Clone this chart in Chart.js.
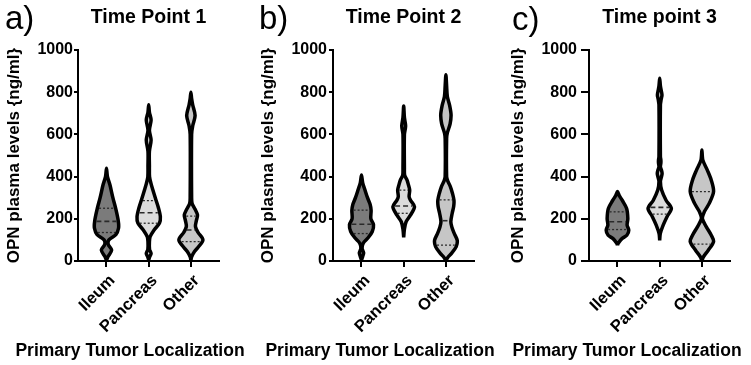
<!DOCTYPE html>
<html>
<head>
<meta charset="utf-8">
<script src="https://cdn.jsdelivr.net/npm/chart.js@4.4.1/dist/chart.umd.min.js"></script>
<style>
  body { margin: 0; background: #fff; }
  #wrap { position: relative; width: 751px; height: 365px; overflow: hidden;
          font-family: "Liberation Sans", Arial, sans-serif; color: #000; }
  canvas { position: absolute; top: 0; }
  .tag { position: absolute; font-size: 33px; line-height: 33px; }
  .xt { position: absolute; width: 300px; top: 340px; text-align: center;
        font-weight: bold; font-size: 17.5px; line-height: 20px; }
</style>
</head>
<body>
<div id="wrap">
  <canvas id="tp1" width="235" height="365" style="left:4px"></canvas>
  <canvas id="tp2" width="236" height="365" style="left:258px"></canvas>
  <canvas id="tp3" width="242" height="365" style="left:508px"></canvas>
  <div class="tag" style="left:5px;top:1px">a)</div>
  <div class="tag" style="left:259px;top:1px">b)</div>
  <div class="tag" style="left:512px;top:2px">c)</div>
  <div class="xt" style="left:-20px">Primary Tumor Localization</div>
  <div class="xt" style="left:230px">Primary Tumor Localization</div>
  <div class="xt" style="left:477px">Primary Tumor Localization</div>
</div>
<script>
// Violin plots of OPN plasma levels per tumour site, three time points

const CATEGORIES = ['Ileum', 'Pancreas', 'Other'];
const PANEL_TITLES = ['Time Point 1', 'Time Point 2', 'Time point 3'];
const Y_TITLE = 'OPN plasma levels {ng/ml}';
const Y_MIN = 0, Y_MAX = 1000, Y_STEP = 200;

// violin outlines: [OPN value, relative density 0..1]
const tp1Ileum = [[3,0],[20,0.12],[52,0.43],[78,0.15],[100,0.2],[125,0.78],[155,1.0],[190,0.98],
  [250,0.76],[300,0.53],[360,0.29],[400,0.08],[440,0]];
const tp1Pancreas = [[5,0],[20,0.08],[36,0.2],[55,0.07],[90,0.06],[115,0.12],[147,0.45],[180,0.9],
  [210,0.97],[250,0.82],[297,0.56],[340,0.33],[368,0.19],[400,0.07],[450,0.06],[520,0.06],
  [573,0.2],[620,0.06],[668,0.2],[705,0.06],[741,0]];
const tp1Other = [[3,0],[20,0.06],[45,0.3],[65,0.6],[100,1.0],[135,0.6],[163,0.38],[190,0.45],
  [218,0.55],[245,0.35],[273,0.1],[300,0.06],[600,0.06],[640,0.15],[689,0.35],[740,0.15],
  [770,0.06],[800,0]];

const tp2Ileum = [[5,0],[22,0.1],[38,0.18],[60,0.05],[85,0.15],[110,0.55],[140,0.9],[172,1.0],
  [200,0.78],[240,0.8],[268,0.72],[300,0.5],[340,0.27],[370,0.1],[407,0]];
const tp2Pancreas = [[112,0],[150,0.06],[186,0.2],[217,0.56],[257,0.9],[290,0.55],[305,0.45],
  [336,0.5],[360,0.4],[383,0.28],[407,0.08],[440,0.06],[600,0.06],[640,0.16],[680,0.06],[735,0]];
const tp2Other = [[3,0],[20,0.2],[35,0.45],[68,0.86],[98,0.94],[130,0.7],[160,0.5],[186,0.41],
  [225,0.52],[260,0.65],[288,0.67],[320,0.55],[353,0.37],[380,0.15],[400,0.06],[580,0.06],
  [607,0.12],[650,0.35],[693,0.43],[740,0.3],[780,0.12],[830,0.06],[883,0]];

const tp3Ileum = [[75,0],[83,0.05],[106,0.37],[122,0.78],[146,0.94],[170,0.8],[201,0.86],
  [249,0.76],[288,0.39],[310,0.15],[329,0]];
const tp3Pancreas = [[98,0],[130,0.05],[170,0.29],[210,0.61],[249,0.97],[288,0.53],[336,0.16],
  [377,0.06],[400,0.15],[415,0.2],[430,0.15],[446,0.06],[465,0.1],[478,0.1],[495,0.06],
  [740,0.06],[765,0.12],[787,0.19],[810,0.12],[830,0.06],[866,0]];
const tp3Other = [[0,0],[19,0.12],[51,0.53],[92,0.97],[122,0.78],[162,0.37],[201,0.04],[233,0.2],
  [273,0.61],[329,0.97],[383,0.78],[431,0.45],[478,0.08],[526,0]];

// medians and quartiles (Ileum, Pancreas, Other)
const tp1Median = [188, 229, 147], tp1Q1 = [135, 179, 92], tp1Q3 = [250, 286, 213];
const tp2Median = [174, 261, 191], tp2Q1 = [130, 226, 75], tp2Q3 = [241, 336, 290];
const tp3Median = [186, 254, 205], tp3Q1 = [149, 222, 80], tp3Q3 = [233, null, 329];

const FILLS = ['#7b7b7b', '#dcdcdc', '#c6c6c6'];
const HALF = 0.285;   // max half width of a violin, in category units
const FONT = '"Liberation Sans", Arial, sans-serif';

// layout of each panel: y-axis box width, tick length, tick padding
const panels = [
  { id: 'tp1', violins: [tp1Ileum, tp1Pancreas, tp1Other], med: tp1Median, q1: tp1Q1, q3: tp1Q3, yw: 74, tl: 4, tp: 1 },
  { id: 'tp2', violins: [tp2Ileum, tp2Pancreas, tp2Other], med: tp2Median, q1: tp2Q1, q3: tp2Q3, yw: 75, tl: 4, tp: 2 },
  { id: 'tp3', violins: [tp3Ileum, tp3Pancreas, tp3Other], med: tp3Median, q1: tp3Q1, q3: tp3Q3, yw: 81, tl: 8, tp: 4 }
];

function densityAt(profile, v) {
  for (let i = 1; i < profile.length; i++) {
    const [v0, d0] = profile[i - 1], [v1, d1] = profile[i];
    if (v >= v0 && v <= v1) return d0 + (d1 - d0) * (v - v0) / (v1 - v0);
  }
  return 0;
}

function violin(profile, cat, color) {
  const right = profile.map(([v, d]) => ({ x: cat + d * HALF, y: v }));
  const left = profile.slice(0, -1).reverse().map(([v, d]) => ({ x: cat - d * HALF, y: v }));
  return {
    data: right.concat(left),
    showLine: true,
    fill: 'shape',
    backgroundColor: color,
    borderColor: '#000',
    borderWidth: 3.5,
    borderJoinStyle: 'round',
    tension: 0.3,
    pointRadius: 0
  };
}

function statLine(profile, cat, v, dash, width) {
  if (v == null) return null;
  const hw = densityAt(profile, v) * HALF - 0.04;
  if (hw <= 0) return null;
  return {
    data: [{ x: cat - hw, y: v }, { x: cat + hw, y: v }],
    showLine: true,
    fill: false,
    borderColor: '#2a2a2a',
    borderWidth: width,
    borderDash: dash,
    pointRadius: 0
  };
}

panels.forEach((p, k) => {
  const lines = [];
  const shapes = [];
  p.violins.forEach((prof, i) => {
    const cat = i + 1;
    lines.push(statLine(prof, cat, p.med[i], [5, 3], 1.6));
    lines.push(statLine(prof, cat, p.q1[i], [2, 2], 1.3));
    lines.push(statLine(prof, cat, p.q3[i], [2, 2], 1.3));
    shapes.push(violin(prof, cat, FILLS[i]));
  });

  new Chart(document.getElementById(p.id), {
    type: 'scatter',
    data: { datasets: lines.filter(d => d).concat(shapes) },
    options: {
      responsive: false,
      animation: false,
      events: [],
      layout: { padding: { top: 6, bottom: 14, left: 0, right: 20 } },
      plugins: { legend: { display: false }, tooltip: { enabled: false } },
      scales: {
        x: {
          type: 'linear',
          min: 0.325,
          max: 3.666,
          afterBuildTicks: s => { s.ticks = CATEGORIES.map((c, i) => ({ value: i + 1 })); },
          afterFit: s => { s.height = 90; },
          ticks: {
            callback: v => CATEGORIES[v - 1],
            minRotation: 45,
            maxRotation: 45,
            autoSkip: false,
            padding: 4,
            labelOffset: 6,
            color: '#000',
            font: { family: FONT, size: 16.5, weight: 'bold' }
          },
          grid: { drawOnChartArea: false, tickLength: 6, color: '#000', lineWidth: 2 },
          border: { color: '#000', width: 2 }
        },
        x2: {
          type: 'linear',
          position: 'top',
          min: 0.325,
          max: 3.666,
          afterFit: s => { s.height = 44; },
          ticks: { display: false },
          grid: { display: false },
          border: { display: false },
          title: {
            display: true,
            text: PANEL_TITLES[k],
            color: '#000',
            padding: 0,
            font: { family: FONT, size: 19.5, weight: 'bold' }
          }
        },
        y: {
          min: Y_MIN,
          max: Y_MAX,
          afterFit: s => { s.width = p.yw; },
          ticks: {
            stepSize: Y_STEP,
            padding: p.tp,
            callback: v => String(v),
            color: '#000',
            font: { family: FONT, size: 16, weight: 'bold' }
          },
          grid: { drawOnChartArea: false, tickLength: p.tl, color: '#000', lineWidth: 2 },
          border: { color: '#000', width: 2 },
          title: {
            display: true,
            text: Y_TITLE,
            color: '#000',
            padding: 0,
            font: { family: FONT, size: 17, weight: 'bold' }
          }
        }
      }
    }
  });
});
</script>
</body>
</html>
